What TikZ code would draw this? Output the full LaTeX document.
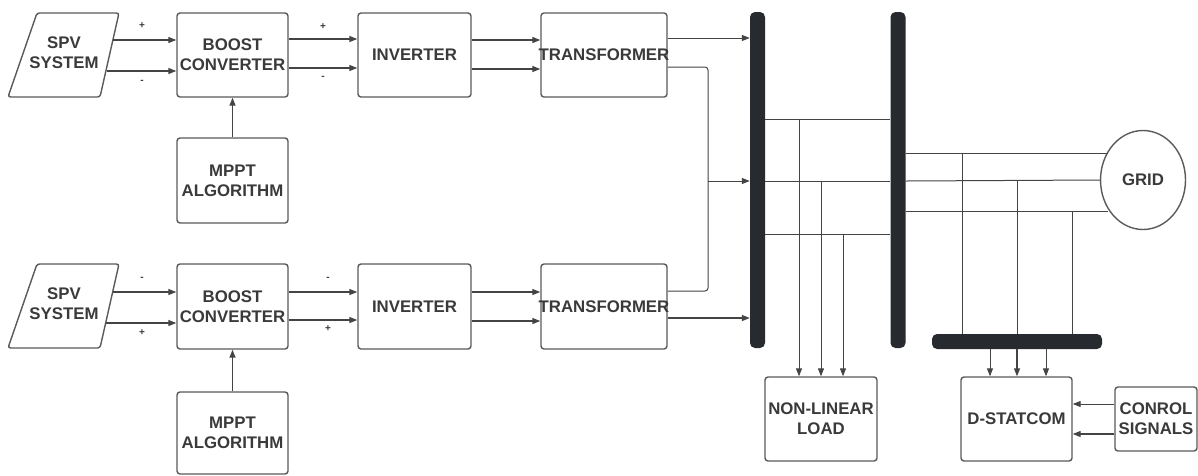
\documentclass[tikz,border=0pt]{standalone}
\usepackage{fontspec}
\setmainfont{Liberation Sans}
\usetikzlibrary{arrows.meta,shapes.geometric}
\definecolor{boxc}{HTML}{5A5A5A}
\definecolor{linec}{HTML}{444444}
\definecolor{busc}{HTML}{272B30}
\definecolor{txtc}{HTML}{3A3A3A}
\newcommand{\labfont}{\fontsize{16.8}{20}\selectfont\bfseries}
\tikzset{
  box/.style={draw=boxc, line width=1.4pt, rounded corners=3pt, fill=white,
    text=txtc, font=\labfont, align=center, inner sep=0pt},
  spvtext/.style={text=txtc, font=\labfont, align=center, inner sep=0pt},
  conn/.style={draw=linec, line width=1.3pt, -{Triangle[length=8pt,width=6pt]}},
  thinconn/.style={draw=linec, line width=1pt, -{Triangle[length=8pt,width=6pt]}},
  wire/.style={draw=linec, line width=1pt},
  busbar/.style={fill=busc, draw=none, rounded corners=5pt, inner sep=0pt},
  pm/.style={text=txtc, font=\fontsize{10}{12}\selectfont\bfseries, inner sep=0pt},
}
\begin{document}
\begin{tikzpicture}[x=1pt,y=-1pt]
\useasboundingbox (0,0) rectangle (1198,475);

% ---------- top chain ----------
\draw[draw=boxc, line width=1.4pt, rounded corners=2.5pt, fill=white]
  (37,13) -- (119,13) -- (100,97) -- (8,97) -- cycle;
\node[spvtext] (spv1) at (64,53) {SPV\\SYSTEM};
\coordinate (spv1p) at (113,40);
\coordinate (spv1m) at (106.5,71);
\node[box, minimum width=111pt, minimum height=84pt] (boost1) at (232.5,55) {BOOST\\CONVERTER};
\node[box, minimum width=111pt, minimum height=85pt] (mppt1) at (232.5,180.5) {MPPT\\ALGORITHM};
\node[box, minimum width=113pt, minimum height=84pt] (inv1) at (414.5,55) {INVERTER};
\node[box, minimum width=126pt, minimum height=84pt] (tr1) at (604,55) {\makebox[0pt][c]{TRANSFORMER}};

% ---------- bottom chain ----------
\draw[draw=boxc, line width=1.4pt, rounded corners=2.5pt, fill=white]
  (37,264) -- (119,264) -- (100,348) -- (8,348) -- cycle;
\node[spvtext] (spv2) at (64,304) {SPV\\SYSTEM};
\coordinate (spv2m) at (112.7,292);
\coordinate (spv2p) at (105.7,323);
\node[box, minimum width=111pt, minimum height=85pt] (boost2) at (232.5,306.5) {BOOST\\CONVERTER};
\node[box, minimum width=111pt, minimum height=82pt] (mppt2) at (232.5,433) {MPPT\\ALGORITHM};
\node[box, minimum width=113pt, minimum height=85pt] (inv2) at (414.5,306.5) {INVERTER};
\node[box, minimum width=126pt, minimum height=85pt] (tr2) at (604,306.5) {\makebox[0pt][c]{TRANSFORMER}};

% ---------- buses ----------
\node[busbar, minimum width=15pt, minimum height=336pt] (bus1) at (757.5,180) {};
\node[busbar, minimum width=15pt, minimum height=336pt] (bus2) at (898,180) {};
\node[busbar, minimum width=170pt, minimum height=15pt] (sbus) at (1017,341.5) {};

% ---------- right side ----------
\node[draw=boxc, line width=1.4pt, ellipse, minimum width=85pt, minimum height=99pt,
      inner sep=0pt, text=txtc, font=\labfont] (grid) at (1143,180) {GRID};
\coordinate (g1) at (1107.5,153);
\coordinate (g3) at (1108,211);
\node[box, minimum width=112pt, minimum height=84pt] (nl) at (821,419) {NON-LINEAR\\LOAD};
\node[box, minimum width=111pt, minimum height=84pt] (dst) at (1016.5,419) {D-STATCOM};
\node[box, minimum width=82pt, minimum height=64pt] (ctrl) at (1156,419) {CONROL\\SIGNALS};

% ---------- top connectors ----------
\draw[conn] (spv1p) -- (boost1.west |- 0,40);
\draw[conn] (spv1m) -- (boost1.west |- 0,71);
\node[pm] (p1) at (142,26) {+};
\node[pm] (m1) at (142,82) {-};
\draw[conn] (boost1.east |- 0,39) -- (inv1.west |- 0,39);
\draw[conn] (boost1.east |- 0,68) -- (inv1.west |- 0,68);
\node[pm] (p2) at (323,27) {+};
\node[pm] (m2) at (323,78) {-};
\draw[conn] (mppt1.north) -- (boost1.south);
\draw[conn] (inv1.east |- 0,40) -- (tr1.west |- 0,40);
\draw[conn] (inv1.east |- 0,69) -- (tr1.west |- 0,69);

% ---------- bottom connectors ----------
\draw[conn] (spv2m) -- (boost2.west |- 0,292);
\draw[conn] (spv2p) -- (boost2.west |- 0,323);
\node[pm] (m3) at (142,279) {-};
\node[pm] (p3) at (142,333) {+};
\draw[conn] (boost2.east |- 0,292) -- (inv2.west |- 0,292);
\draw[conn] (boost2.east |- 0,320) -- (inv2.west |- 0,320);
\node[pm] (m4) at (328,279) {-};
\node[pm] (p4) at (328,329) {+};
\draw[conn] (mppt2.north) -- (boost2.south);
\draw[conn] (inv2.east |- 0,292) -- (tr2.west |- 0,292);
\draw[conn] (inv2.east |- 0,321) -- (tr2.west |- 0,321);

% ---------- transformers to bus 1 ----------
\coordinate (jx) at (708,181);
\draw[thinconn] (tr1.east |- 0,38) -- (bus1.west |- 0,38);
\draw[wire, rounded corners=3pt] (tr1.east |- 0,67) -| (jx);
\draw[wire, rounded corners=3pt] (tr2.east |- 0,291) -| (jx);
\draw[thinconn] (jx) -- (bus1.west |- 0,181);
\draw[conn] (tr2.east |- 0,318) -- (bus1.west |- 0,318);

% ---------- bus 1 to bus 2 ----------
\draw[wire] (bus1.east |- 0,119) -- (bus2.west |- 0,119);
\draw[wire] (bus1.east |- 0,181) -- (bus2.west |- 0,181);
\draw[wire] (bus1.east |- 0,234) -- (bus2.west |- 0,234);
\coordinate (t1) at (799,119);
\coordinate (t2) at (821,181);
\coordinate (t3) at (843,234);
\draw[thinconn] (t1) -- (nl.north -| t1);
\draw[thinconn] (t2) -- (nl.north -| t2);
\draw[thinconn] (t3) -- (nl.north -| t3);

% ---------- bus 2 to grid ----------
\draw[wire] (bus2.east |- 0,153) -- (g1);
\draw[wire] (bus2.east |- 0,181) -- (grid.west);
\draw[wire] (bus2.east |- 0,211) -- (g3);
\coordinate (s1) at (962,153);
\coordinate (s2) at (1017,181);
\coordinate (s3) at (1072,211);
\draw[wire] (s1) -- (sbus.north -| s1);
\draw[wire] (s2) -- (sbus.north -| s2);
\draw[wire] (s3) -- (sbus.north -| s3);

% ---------- statcom ----------
\draw[thinconn] (sbus.south -| 990,0) -- (dst.north -| 990,0);
\draw[conn] (sbus.south -| 1017,0) -- (dst.north -| 1017,0);
\draw[thinconn] (sbus.south -| 1046,0) -- (dst.north -| 1046,0);
\draw[thinconn] (ctrl.west |- 0,404) -- (dst.east |- 0,404);
\draw[conn] (ctrl.west |- 0,434) -- (dst.east |- 0,434);
\end{tikzpicture}
\end{document}
